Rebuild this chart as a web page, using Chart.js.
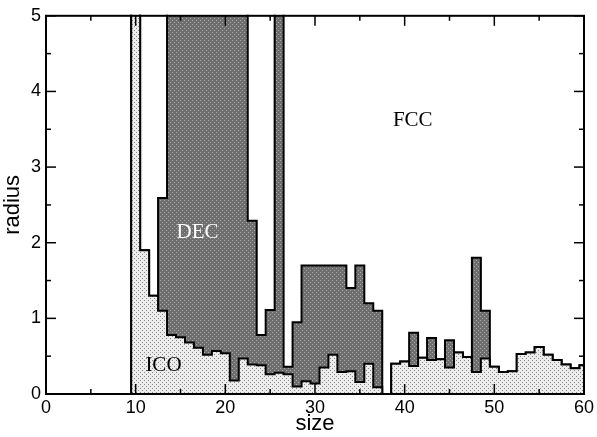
<!DOCTYPE html>
<html>
<head>
<meta charset="utf-8">
<script src="https://cdn.jsdelivr.net/npm/chart.js@4.4.0/dist/chart.umd.min.js"></script>
<style>
    html, body { margin: 0; padding: 0; background: #fff; }
    #wrap { width: 597px; height: 437px; }
</style>
</head>
<body>
<div id="wrap"><canvas id="phaseChart"></canvas></div>
<script>
// cluster size (one bin per size, bins are centred on the integer)
const sizes = [9, 10, 11, 12, 13, 14, 15, 16, 17, 18, 19, 20, 21, 22, 23, 24, 25, 26, 27, 28, 29,
    30, 31, 32, 33, 34, 35, 36, 37, 38, 39, 40, 41, 42, 43, 44, 45, 46, 47, 48, 49, 50,
    51, 52, 53, 54, 55, 56, 57, 58, 59, 60];
// upper edge of the ICO region (values above 5 are off the chart)
const icoRadius = [0, 6, 1.90, 1.30, 1.10, 0.78, 0.75, 0.68, 0.61, 0.52, 0.57, 0.54, 0.18, 0.47, 0.39, 0.38, 0.26, 0.28, 0.26,
    0.10, 0.17, 0.14, 0.35, 0.52, 0.29, 0.30, 0.16, 0.40, 0.09, 0, 0.40, 0.43, 0.37, 0.48, 0.45, 0.46, 0.35,
    0.55, 0.49, 0.29, 0.47, 0.36, 0.29, 0.30, 0.53, 0.55, 0.62, 0.52, 0.45, 0.39, 0.34, 0.38];
// upper edge of the DEC region (equal to ICO where there is no DEC)
const decRadius = [0, 6, 1.90, 1.30, 2.59, 6, 6, 6, 6, 6, 6, 6, 6, 6, 2.29, 0.78, 1.11, 6, 0.36,
    0.95, 1.70, 1.70, 1.70, 1.70, 1.70, 1.40, 1.70, 1.20, 1.10, 0, 0.40, 0.43, 0.81, 0.48, 0.74, 0.46, 0.71,
    0.55, 0.49, 1.80, 1.10, 0.36, 0.29, 0.30, 0.53, 0.55, 0.62, 0.52, 0.45, 0.39, 0.34, 0.38];

const xTicks = [0, 10, 20, 30, 40, 50, 60];
const yTicks = [0, 1, 2, 3, 4, 5];

const phaseLabels = ['FCC', 'DEC', 'ICO'];
const phaseLabelX = [40.9, 16.9, 13.1];
const phaseLabelY = [3.62, 2.14, 0.38];
const phaseLabelColor = ['#000', '#fff', '#000'];

function makePattern(bg, dot, cells) {
    const c = document.createElement('canvas');
    c.width = 4;
    c.height = 4;
    const g = c.getContext('2d');
    g.fillStyle = bg;
    g.fillRect(0, 0, 4, 4);
    g.fillStyle = dot;
    cells.forEach(([x, y]) => g.fillRect(x, y, 1, 1));
    return g.createPattern(c, 'repeat');
}

const lightFill = makePattern('#ececec', '#8a8a8a', [[0, 0], [2, 2]]);
const darkFill = makePattern('#6e6e6e', '#aaaaaa', [[0, 0], [2, 2]]);

// frame and inward ticks on all four sides, like the original plot
const frameTicks = {
    id: 'frameTicks',
    afterDatasetsDraw(chart) {
        const {ctx, chartArea: a, scales: {x, y}} = chart;
        ctx.save();
        ctx.strokeStyle = '#000';
        ctx.lineWidth = 1.5;
        const tick = (x1, y1, x2, y2) => {
            ctx.beginPath();
            ctx.moveTo(x1, y1);
            ctx.lineTo(x2, y2);
            ctx.stroke();
        };
        for (let v = 0; v <= 60; v += 5) {
            const px = x.getPixelForValue(v);
            const len = v % 10 === 0 ? 10 : 5;
            tick(px, a.bottom, px, a.bottom - len);
            tick(px, a.top, px, a.top + len);
        }
        for (let v = 0; v <= 5; v += 0.5) {
            const py = y.getPixelForValue(v);
            const len = Number.isInteger(v) ? 10 : 5;
            tick(a.left, py, a.left + len, py);
            tick(a.right, py, a.right - len, py);
        }
        ctx.lineWidth = 2;
        ctx.strokeRect(a.left, a.top, a.right - a.left, a.bottom - a.top);

        ctx.font = '21px "Liberation Serif", serif';
        ctx.textAlign = 'center';
        ctx.textBaseline = 'middle';
        phaseLabels.forEach((t, i) => {
            ctx.fillStyle = phaseLabelColor[i];
            ctx.fillText(t, x.getPixelForValue(phaseLabelX[i]), y.getPixelForValue(phaseLabelY[i]));
        });
        ctx.restore();
    }
};

const tickFont = {family: '"Liberation Sans", Arial, sans-serif', size: 18};
const titleFont = {family: '"Liberation Sans", Arial, sans-serif', size: 22};

new Chart(document.getElementById('phaseChart').getContext('2d'), {
    type: 'line',
    data: {
        labels: sizes,
        datasets: [{
            label: 'ICO',
            data: sizes.map((s, i) => ({x: s, y: icoRadius[i]})),
            stepped: 'middle',
            borderColor: '#000',
            borderWidth: 2,
            pointRadius: 0,
            fill: {target: 'origin', above: lightFill},
            clip: 1
        }, {
            label: 'DEC',
            data: sizes.map((s, i) => ({x: s, y: decRadius[i]})),
            stepped: 'middle',
            borderColor: '#000',
            borderWidth: 2,
            pointRadius: 0,
            fill: {target: 0, above: darkFill, below: 'rgba(0,0,0,0)'},
            clip: 1
        }]
    },
    options: {
        responsive: true,
        maintainAspectRatio: false,
        animation: false,
        layout: {padding: {top: 13, right: 10, left: 0, bottom: 0}},
        plugins: {
            legend: {display: false},
            tooltip: {enabled: false}
        },
        scales: {
            x: {
                type: 'linear',
                min: 0,
                max: 60,
                afterBuildTicks: (scale) => { scale.ticks = xTicks.map(v => ({value: v})); },
                afterFit: (scale) => { scale.height = 43; },
                grid: {display: false, drawTicks: false},
                border: {display: false},
                ticks: {color: '#000', font: tickFont, padding: 3, maxRotation: 0},
                title: {display: true, text: 'size', color: '#000', padding: {top: 0, bottom: 0}, font: titleFont}
            },
            y: {
                min: 0,
                max: 5,
                afterBuildTicks: (scale) => { scale.ticks = yTicks.map(v => ({value: v})); },
                afterFit: (scale) => { scale.width = 46; },
                grid: {display: false, drawTicks: false},
                border: {display: false},
                ticks: {color: '#000', font: tickFont, padding: 5},
                title: {display: true, text: 'radius', color: '#000', padding: {top: 0, bottom: 0}, font: titleFont}
            }
        }
    },
    plugins: [frameTicks]
});
</script>
</body>
</html>
